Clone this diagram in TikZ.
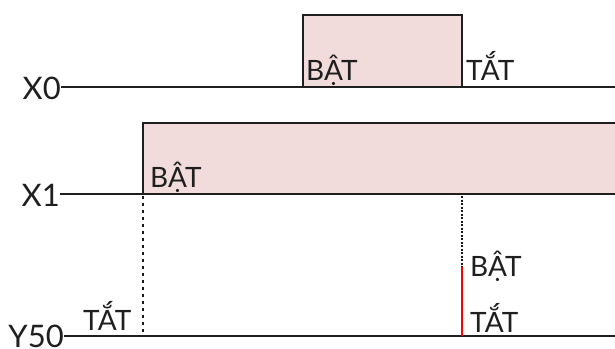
\documentclass[tikz,border=0pt]{standalone}
\usepackage{fontspec}
\setmainfont{Lato}
\begin{document}
\begin{tikzpicture}[x=1pt,y=-1pt,
  sig/.style={line width=2pt,draw=black!88},
  guide/.style={line width=2pt,draw=black!90,dash pattern=on 3pt off 4pt},
  fineguide/.style={line width=2pt,draw=black!90,dash pattern=on 2pt off 1.5pt},
  edge/.style={line width=2pt,draw=red},
  lbl/.style={inner sep=0pt,font=\fontsize{28}{28}\selectfont,text=black!88},
  axis/.style={inner sep=0pt,font=\fontsize{31}{31}\selectfont,text=black!88},
]
\definecolor{pulsepink}{HTML}{F2DCDB}
\useasboundingbox (0,0) rectangle (615,348);

% X0 trace
\node[axis,anchor=base east] (x0) at (61,99) {X0};
\fill[pulsepink] (303,15) rectangle (462,87);
\draw[sig] (x0.east |- 0,87) -- (303,87) -- (303,15) -- (462,15) -- (462,87) -- (615,87);
\draw[sig] (303,87) -- (462,87);
\node[lbl,anchor=base west] (x0on) at (306,80) {BẬT};
\node[lbl,anchor=base west] (x0off) at (466,80) {TẮT};

% X1 trace
\node[axis,anchor=base east] (x1) at (60,206) {X1};
\fill[pulsepink] (143,123) rectangle (616,194);
\draw[sig] (x1.east |- 0,194) -- (143,194) -- (143,123) -- (617,123);
\draw[sig] (143,194) -- (615,194);
\node[lbl,anchor=base west] (x1on) at (150,187) {BẬT};

% Y50 trace
\node[axis,anchor=base east] (y50) at (64,347) {Y50};
\draw[sig] (y50.east |- 0,336) -- (615,336);
\node[lbl,anchor=base west] (y50offa) at (83,330) {TẮT};
\node[lbl,anchor=base west] (y50on) at (470,276) {BẬT};
\node[lbl,anchor=base west] (y50offb) at (470,332) {TẮT};

% guides between the traces
\coordinate (g0a) at (143,196);
\coordinate (g0b) at (143,335);
\coordinate (g1a) at (462,196);
\coordinate (g1b) at (462,267);
\coordinate (g1c) at (462,336);
\draw[guide] (g0a) -- (g0b);
\draw[fineguide] (g1a) -- (g1b);
\draw[edge] (g1b) -- (g1c);
\end{tikzpicture}
\end{document}
